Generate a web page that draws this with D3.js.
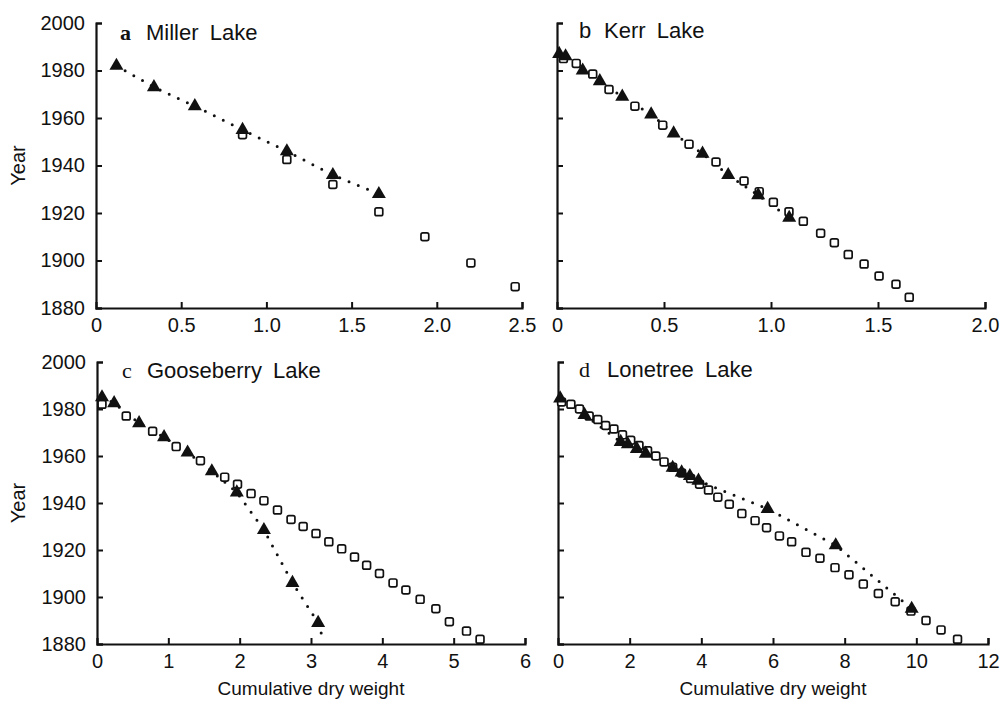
<!DOCTYPE html>
<html><head><meta charset="utf-8">
<script src="https://cdn.jsdelivr.net/npm/d3@7"></script>
<style>
html,body{margin:0;padding:0;background:#fff;}
svg{display:block;}
text{font-family:"Liberation Sans",Arial,sans-serif;fill:#111;}
</style></head>
<body><svg id="chart" width="1000" height="706"></svg>
<script>
// ---------- data ----------
const yearTicks = [1880, 1900, 1920, 1940, 1960, 1980, 2000];

// a Miller Lake
const millerTriX = [0.12, 0.34, 0.58, 0.86, 1.12, 1.39, 1.66];
const millerTriY = [1982, 1973, 1965, 1955, 1946, 1936, 1928];
const millerSqX = [0.86, 1.12, 1.39, 1.66, 1.93, 2.20, 2.46];
const millerSqY = [1953, 1942.5, 1932, 1920.5, 1910, 1899, 1889];
const millerTicks = [0, 0.5, 1.0, 1.5, 2.0, 2.5];
const millerTickLabels = ["0", "0.5", "1.0", "1.5", "2.0", "2.5"];

// b Kerr Lake
const kerrTriX = [0.01, 0.04, 0.12, 0.20, 0.305, 0.44, 0.545, 0.68, 0.80, 0.94, 1.085];
const kerrTriY = [1987, 1986, 1980, 1975.5, 1969, 1961.5, 1953.5, 1945, 1936, 1927.5, 1918];
const kerrSqX = [0.03, 0.09, 0.167, 0.243, 0.364, 0.494, 0.617, 0.743, 0.874, 0.945, 1.011, 1.084, 1.151, 1.232, 1.296, 1.361, 1.435, 1.505, 1.584, 1.646];
const kerrSqY = [1985, 1983, 1978.5, 1972, 1965, 1957, 1949, 1941.5, 1933.5, 1929, 1924.5, 1920.5, 1916.5, 1911.5, 1907.5, 1902.5, 1898.5, 1893.5, 1890, 1884.5];
const kerrTicks = [0, 0.5, 1.0, 1.5, 2.0];
const kerrTickLabels = ["0", "0.5", "1.0", "1.5", "2.0"];

// c Gooseberry Lake
const gooseTriX = [0.07, 0.24, 0.59, 0.94, 1.27, 1.61, 1.96, 2.34, 2.74, 3.10];
const gooseTriY = [1985, 1982.5, 1974, 1968, 1961.5, 1953.5, 1944.5, 1928.5, 1906, 1889];
const gooseLineEndX = [3.17];
const gooseLineEndY = [1882];
const gooseSqX = [0.07, 0.41, 0.78, 1.11, 1.45, 1.79, 1.97, 2.16, 2.34, 2.53, 2.72, 2.89, 3.07, 3.25, 3.43, 3.61, 3.78, 3.96, 4.15, 4.33, 4.53, 4.75, 4.94, 5.18, 5.37];
const gooseSqY = [1982, 1977, 1970.5, 1964, 1958, 1951, 1948, 1944, 1941, 1937, 1933, 1930, 1927, 1923.5, 1920.5, 1917, 1913.5, 1910, 1906, 1903, 1899, 1895, 1889.5, 1885.5, 1882];
const gooseTicks = [0, 1, 2, 3, 4, 5, 6];
const gooseTickLabels = ["0", "1", "2", "3", "4", "5", "6"];

// d Lonetree Lake
const loneTriX = [0.06, 0.74, 1.75, 1.95, 2.2, 2.45, 3.2, 3.45, 3.68, 3.92, 5.85, 7.75, 9.87];
const loneTriY = [1984.5, 1977.5, 1966, 1965, 1963, 1961, 1955, 1953, 1951.5, 1949.5, 1937.5, 1922, 1895];
const loneSqX = [0.1, 0.36, 0.6, 0.87, 1.11, 1.33, 1.56, 1.8, 2.03, 2.26, 2.5, 2.73, 2.96, 3.2, 3.45, 3.7, 3.95, 4.2, 4.46, 4.78, 5.13, 5.5, 5.82, 6.18, 6.52, 6.92, 7.31, 7.73, 8.12, 8.52, 8.94, 9.41, 9.85, 10.27, 10.69, 11.15];
const loneSqY = [1983, 1982, 1980, 1977, 1975.5, 1973, 1971.5, 1969, 1966.7, 1964.5, 1962.2, 1960, 1957.5, 1955.2, 1952.8, 1950.4, 1948, 1945.5, 1942.5, 1939.5, 1935.5, 1932.5, 1929.5, 1926, 1923.5, 1919, 1916.5, 1912.5, 1909.5, 1905.5, 1901.5, 1898, 1894, 1890, 1886, 1882];
const loneTicks = [0, 2, 4, 6, 8, 10, 12];
const loneTickLabels = ["0", "2", "4", "6", "8", "10", "12"];

const letters = ["a", "b", "c", "d"];
const lakeNames = ["Miller Lake", "Kerr Lake", "Gooseberry Lake", "Lonetree Lake"];
const yTitle = "Year";
const xTitle = "Cumulative dry weight";

// ---------- layout ----------
const svg = d3.select("#chart");
const zip = (xs, ys) => xs.map((x, i) => ({x, y: ys[i]}));

const panels = [
  {letter: letters[0], name: lakeNames[0], box: [96, 522, 23, 308], xmax: 2.5, ticks: millerTicks, labels: millerTickLabels,
   tri: zip(millerTriX, millerTriY), sq: zip(millerSqX, millerSqY), line: zip(millerTriX, millerTriY), yLabels: true, xTitle: false,
   title: [120, 146, 40], serif: true, bold: true},
  {letter: letters[1], name: lakeNames[1], box: [557, 985, 23, 308], xmax: 2.0, ticks: kerrTicks, labels: kerrTickLabels,
   tri: zip(kerrTriX, kerrTriY), sq: zip(kerrSqX, kerrSqY), line: zip(kerrTriX, kerrTriY), yLabels: false, xTitle: false,
   title: [579, 604, 38], serif: false, bold: false},
  {letter: letters[2], name: lakeNames[2], box: [97, 525, 362, 644], xmax: 6, ticks: gooseTicks, labels: gooseTickLabels,
   tri: zip(gooseTriX, gooseTriY), sq: zip(gooseSqX, gooseSqY), line: zip(gooseTriX.concat(gooseLineEndX), gooseTriY.concat(gooseLineEndY)), yLabels: true, xTitle: true,
   title: [122, 147, 378], serif: true, bold: false},
  {letter: letters[3], name: lakeNames[3], box: [558, 988, 362, 644], xmax: 12, ticks: loneTicks, labels: loneTickLabels,
   tri: zip(loneTriX, loneTriY), sq: zip(loneSqX, loneSqY), line: zip(loneTriX, loneTriY), yLabels: false, xTitle: true,
   title: [579, 607, 377], serif: true, bold: false}
];

panels.forEach(p => {
  const [l, r, t, b] = p.box;
  const x = d3.scaleLinear().domain([0, p.xmax]).range([l, r]);
  const y = d3.scaleLinear().domain([1880, 2000]).range([b, t]);
  const g = svg.append("g");

  // axes
  const yAxis = d3.axisLeft(y).tickValues(yearTicks).tickSizeInner(-6).tickSizeOuter(-6).tickPadding(11)
      .tickFormat(p.yLabels ? d3.format("d") : () => "");
  const xAxis = d3.axisBottom(x).tickValues(p.ticks).tickSizeInner(-6).tickSizeOuter(-6).tickPadding(10)
      .tickFormat((d, i) => p.labels[i]);
  const ga = g.append("g").attr("transform", `translate(${l},0)`).call(yAxis);
  const gb = g.append("g").attr("transform", `translate(0,${b})`).call(xAxis);
  [ga, gb].forEach(a => {
    a.selectAll(".domain").attr("stroke", "#111").attr("stroke-width", 2.2).attr("fill", "none");
    a.selectAll(".tick line").attr("stroke", "#111").attr("stroke-width", 2);
    a.selectAll(".tick text").style("font-size", "20px").attr("fill", "#111")
      .style("font-family", '"Liberation Sans",Arial,sans-serif');
  });
  gb.selectAll(".tick").filter(d => d === 0).select("line").remove();

  // dotted line
  g.append("path").datum(p.line)
    .attr("d", d3.line().x(d => x(d.x)).y(d => y(d.y)))
    .attr("fill", "none").attr("stroke", "#111").attr("stroke-width", 3)
    .attr("stroke-linecap", "round").attr("stroke-dasharray", "0 10");

  // squares (open)
  const s = 7.8;
  g.selectAll("rect.sq").data(p.sq).join("rect").attr("class", "sq")
    .attr("x", d => x(d.x) - s / 2).attr("y", d => y(d.y) - s / 2)
    .attr("width", s).attr("height", s).attr("rx", 1.8)
    .attr("fill", "#fff").attr("stroke", "#111").attr("stroke-width", 1.7);

  // triangles (filled)
  g.selectAll("path.tri").data(p.tri).join("path").attr("class", "tri")
    .attr("d", d3.symbol(d3.symbolTriangle, 85))
    .attr("transform", d => `translate(${x(d.x)},${y(d.y)})`)
    .attr("fill", "#111");

  // title
  g.append("text").attr("x", p.title[0]).attr("y", p.title[2])
    .style("font-family", p.serif ? '"Liberation Serif","DejaVu Serif",serif' : '"Liberation Sans",Arial,sans-serif')
    .style("font-weight", p.bold ? "bold" : "normal")
    .style("font-size", "22px").text(p.letter);
  g.append("text").attr("x", p.title[1]).attr("y", p.title[2])
    .style("font-size", "22px").style("word-spacing", "5px").text(p.name);

  // axis titles
  if (p.yLabels) {
    g.append("text").attr("transform", `translate(25,${(t + b) / 2}) rotate(-90)`)
      .attr("text-anchor", "middle").style("font-size", "20px").text(yTitle);
  }
  if (p.xTitle) {
    g.append("text").attr("x", (l + r) / 2).attr("y", b + 51)
      .attr("text-anchor", "middle").style("font-size", "19px").text(xTitle);
  }
});
</script></body></html>
